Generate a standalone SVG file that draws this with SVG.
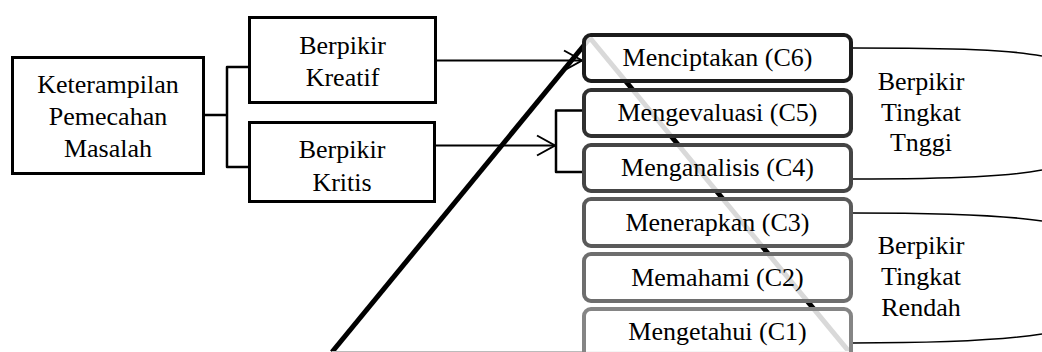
<svg xmlns="http://www.w3.org/2000/svg" width="1042" height="352" viewBox="0 0 1042 352">
<style>
  text { font-family: "Liberation Serif", "Times New Roman", serif; font-size: 26px; fill: #000; text-anchor: middle; }
  .box { fill: #fff; stroke: #000; stroke-width: 3; }
  .lvl { fill: #fff; fill-opacity: 0.85; stroke-width: 4; }
  .conn { fill: none; stroke: #000; stroke-width: 2.5; stroke-linejoin: round; }
  .arrow { fill: none; stroke: #000; stroke-width: 2; }
  .brace { fill: none; stroke: #000; stroke-width: 1.6; }
</style>
<defs>
  <marker id="open" markerUnits="userSpaceOnUse" markerWidth="22" markerHeight="24" viewBox="0 0 22 24" refX="19" refY="12" orient="auto">
    <path d="M1,2 L19,12 L1,22" fill="none" stroke="#000" stroke-width="2"/>
  </marker>
</defs>
<rect width="1042" height="352" fill="#fff"/>

<g id="pyramid">
  <line x1="332" y1="352" x2="590" y2="38" stroke="#000" stroke-width="5"/>
  <line x1="590" y1="38" x2="851" y2="354" stroke="#000" stroke-width="5"/>
  <line x1="332" y1="351.5" x2="851" y2="351.5" stroke="#bbb" stroke-width="1"/>
</g>

<g id="connectors">
  <path class="conn" d="M205,115 H227 M248,67 H227 V167 H248"/>
  <line class="arrow" x1="437" y1="60.5" x2="582" y2="60.5" marker-end="url(#open)"/>
  <line class="arrow" x1="436" y1="145.5" x2="555" y2="145.5" marker-end="url(#open)"/>
  <path class="conn" d="M584,110.5 H556 V172 H584"/>
  <path class="brace" d="M853,48 C960,48 1010,50 1042,56"/>
  <path class="brace" d="M853,179 C960,179 1010,176 1042,170"/>
  <path class="brace" d="M853,213 C960,213 1010,216 1042,221"/>
  <path class="brace" d="M853,343 C960,343 1010,339 1042,334"/>
</g>

<g id="node-keterampilan">
  <rect class="box" x="12.5" y="57.5" width="191" height="116"/>
  <text x="108" y="93">Keterampilan</text>
  <text x="108" y="125">Pemecahan</text>
  <text x="108" y="157">Masalah</text>
</g>
<g id="node-kreatif">
  <rect class="box" x="249.5" y="17.5" width="186" height="85"/>
  <text x="342.5" y="54">Berpikir</text>
  <text x="342.5" y="86">Kreatif</text>
</g>
<g id="node-kritis">
  <rect class="box" x="249.5" y="122.5" width="185" height="79"/>
  <text x="342" y="158">Berpikir</text>
  <text x="342" y="191">Kritis</text>
</g>

<g id="node-c6">
  <rect class="lvl" x="584" y="35" width="267" height="46" rx="7" stroke="#1c1c1c"/>
  <text x="717.5" y="66">Menciptakan (C6)</text>
</g>
<g id="node-c5">
  <rect class="lvl" x="584" y="90" width="267" height="46" rx="7" stroke="#303030"/>
  <text x="717.5" y="121">Mengevaluasi (C5)</text>
</g>
<g id="node-c4">
  <rect class="lvl" x="584" y="145" width="267" height="46" rx="7" stroke="#454545"/>
  <text x="717.5" y="176">Menganalisis (C4)</text>
</g>
<g id="node-c3">
  <rect class="lvl" x="584" y="199" width="267" height="47" rx="7" stroke="#5a5a5a"/>
  <text x="717.5" y="231">Menerapkan (C3)</text>
</g>
<g id="node-c2">
  <rect class="lvl" x="584" y="254" width="267" height="47" rx="7" stroke="#6e6e6e"/>
  <text x="717.5" y="286">Memahami (C2)</text>
</g>
<g id="node-c1">
  <rect class="lvl" x="584" y="309" width="267" height="52" rx="7" stroke="#858585"/>
  <text x="717.5" y="340">Mengetahui (C1)</text>
</g>

<g id="label-tinggi">
  <text x="921" y="90">Berpikir</text>
  <text x="921" y="121">Tingkat</text>
  <text x="921" y="151">Tnggi</text>
</g>
<g id="label-rendah">
  <text x="921" y="254">Berpikir</text>
  <text x="921" y="285">Tingkat</text>
  <text x="921" y="316">Rendah</text>
</g>
</svg>
